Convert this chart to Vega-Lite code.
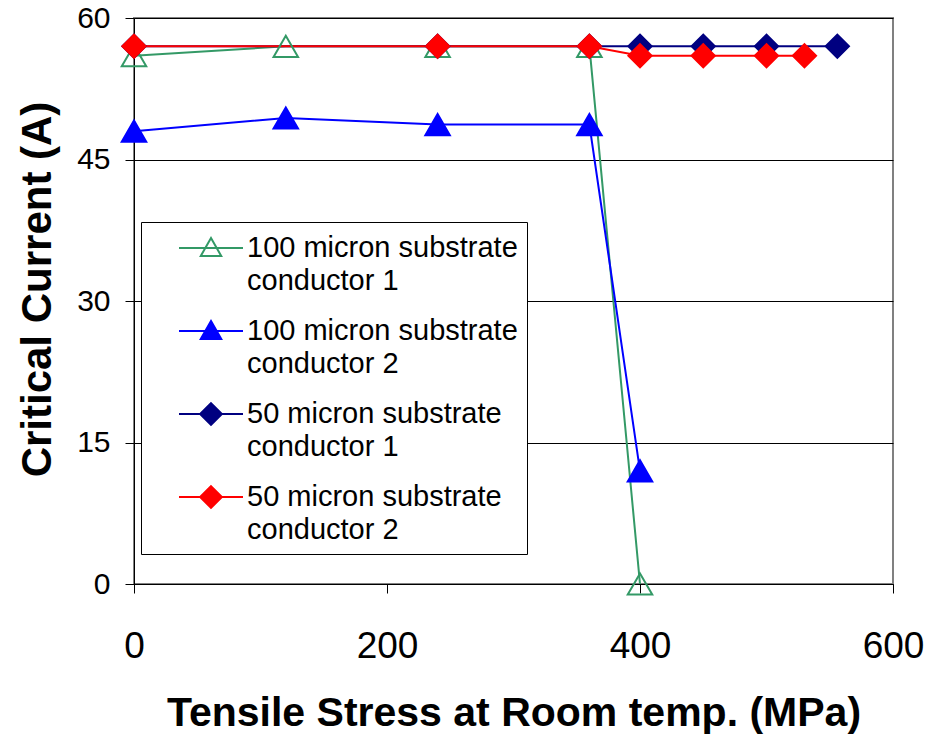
{
  "$schema": "https://vega.github.io/schema/vega-lite/v6.json",
  "autosize": {"type": "none"},
  "padding": {"left": 134, "top": 18, "right": 36, "bottom": 150},
  "width": 759,
  "height": 566,
  "background": "white",
  "config": {
    "view": {"stroke": "#808080", "strokeWidth": 2},
    "font": "Liberation Sans"
  },
  "data": {
    "values": [
      {"series": "100 micron substrate|conductor 1", "stress": 0, "current": 56},
      {"series": "100 micron substrate|conductor 1", "stress": 120, "current": 57},
      {"series": "100 micron substrate|conductor 1", "stress": 240, "current": 57},
      {"series": "100 micron substrate|conductor 1", "stress": 360, "current": 57},
      {"series": "100 micron substrate|conductor 1", "stress": 400, "current": 0},
      {"series": "100 micron substrate|conductor 2", "stress": 0, "current": 48},
      {"series": "100 micron substrate|conductor 2", "stress": 120, "current": 49.4},
      {"series": "100 micron substrate|conductor 2", "stress": 240, "current": 48.7},
      {"series": "100 micron substrate|conductor 2", "stress": 360, "current": 48.7},
      {"series": "100 micron substrate|conductor 2", "stress": 400, "current": 12},
      {"series": "50 micron substrate|conductor 1", "stress": 0, "current": 57},
      {"series": "50 micron substrate|conductor 1", "stress": 240, "current": 57},
      {"series": "50 micron substrate|conductor 1", "stress": 360, "current": 57},
      {"series": "50 micron substrate|conductor 1", "stress": 400, "current": 57},
      {"series": "50 micron substrate|conductor 1", "stress": 450, "current": 57},
      {"series": "50 micron substrate|conductor 1", "stress": 500, "current": 57},
      {"series": "50 micron substrate|conductor 1", "stress": 556, "current": 57},
      {"series": "50 micron substrate|conductor 2", "stress": 0, "current": 57},
      {"series": "50 micron substrate|conductor 2", "stress": 240, "current": 57},
      {"series": "50 micron substrate|conductor 2", "stress": 360, "current": 57},
      {"series": "50 micron substrate|conductor 2", "stress": 400, "current": 56},
      {"series": "50 micron substrate|conductor 2", "stress": 450, "current": 56},
      {"series": "50 micron substrate|conductor 2", "stress": 500, "current": 56},
      {"series": "50 micron substrate|conductor 2", "stress": 530, "current": 56}
    ]
  },
  "encoding": {
    "x": {
      "field": "stress", "type": "quantitative",
      "scale": {"domain": [0, 600], "nice": false, "zero": false},
      "axis": {
        "title": "Tensile Stress at Room temp. (MPa)",
        "values": [0, 200, 400, 600],
        "grid": false,
        "domainColor": "black", "domainWidth": 1,
        "tickColor": "black", "tickSize": 9, "tickWidth": 1,
        "labelFont": "Liberation Sans", "labelFontSize": 37, "labelColor": "black",
        "labelBaseline": "alphabetic", "labelPadding": 64, "labelFlush": false,
        "titleFont": "Liberation Sans", "titleFontSize": 41, "titleFontWeight": "bold", "titleColor": "black",
        "titleBaseline": "alphabetic", "titleY": 141
      }
    },
    "y": {
      "field": "current", "type": "quantitative",
      "scale": {"domain": [0, 60], "nice": false, "zero": true},
      "axis": {
        "title": "Critical Current (A)",
        "values": [0, 15, 30, 45, 60],
        "grid": true, "gridColor": "black", "gridWidth": 1,
        "domainColor": "black", "domainWidth": 1,
        "tickColor": "black", "tickSize": 9, "tickWidth": 1,
        "labelFont": "Liberation Sans", "labelFontSize": 30, "labelColor": "black",
        "labelPadding": 15, "labelBaseline": "middle", "labelFlush": false,
        "titleFont": "Liberation Sans", "titleFontSize": 42, "titleFontWeight": "bold", "titleColor": "black",
        "titleBaseline": "alphabetic", "titleX": -84, "titleY": 271, "titleAngle": -90, "titleAlign": "center"
      }
    },
    "stroke": {
      "field": "series", "type": "nominal",
      "scale": {
        "domain": ["100 micron substrate|conductor 1", "100 micron substrate|conductor 2", "50 micron substrate|conductor 1", "50 micron substrate|conductor 2"],
        "range": ["#339966", "#0000FF", "#000080", "#FF0000"]
      },
      "legend": {
        "title": null,
        "orient": "none", "legendX": 7, "legendY": 204,
        "fillColor": "white", "strokeColor": "black", "padding": 9,
        "symbolSize": 1024, "symbolOffset": 44, "symbolStrokeWidth": 2,
        "labelFont": "Liberation Sans", "labelFontSize": 29, "labelColor": "black",
        "labelOffset": 19, "labelLimit": 400, "labelBaseline": "middle",
        "rowPadding": 18,
        "labelExpr": "split(datum.label, '|')",
        "encoding": {
          "symbols": {
            "shape": {"value": {"expr": "indexof(datum.value, '100') === 0 ? 'M-2,0H2M0,-0.62L0.64,0.5L-0.64,0.5Z' : 'M-2,0H2M0,-0.68L0.68,0L0,0.68L-0.68,0Z'"}},
            "fill": {"value": {"expr": "datum.value === '100 micron substrate|conductor 1' ? 'white' : datum.value === '100 micron substrate|conductor 2' ? '#0000FF' : datum.value === '50 micron substrate|conductor 1' ? '#000080' : '#FF0000'"}},
            "strokeWidth": {"value": 2},
            "opacity": {"value": 1}
          },
          "labels": {
            "lineHeight": {"value": 33}
          }
        }
      }
    }
  },
  "layer": [
    {
      "mark": {"type": "line", "strokeWidth": 2}
    },
    {
      "transform": [{"filter": "indexof(datum.series, '100') === 0"}],
      "mark": {"type": "point", "shape": "triangle-up", "filled": true, "opacity": 1, "strokeWidth": 2, "size": 600},
      "encoding": {
        "fill": {
          "field": "series", "type": "nominal",
          "scale": {
            "domain": ["100 micron substrate|conductor 1", "100 micron substrate|conductor 2", "50 micron substrate|conductor 1", "50 micron substrate|conductor 2"],
            "range": ["transparent", "#0000FF", "#000080", "#FF0000"]
          },
          "legend": null
        }
      }
    },
    {
      "transform": [{"filter": "indexof(datum.series, '50') === 0"}],
      "mark": {"type": "point", "shape": "diamond", "filled": true, "opacity": 1, "strokeWidth": 2, "size": 540},
      "encoding": {
        "fill": {
          "field": "series", "type": "nominal",
          "legend": null
        }
      }
    }
  ]
}
